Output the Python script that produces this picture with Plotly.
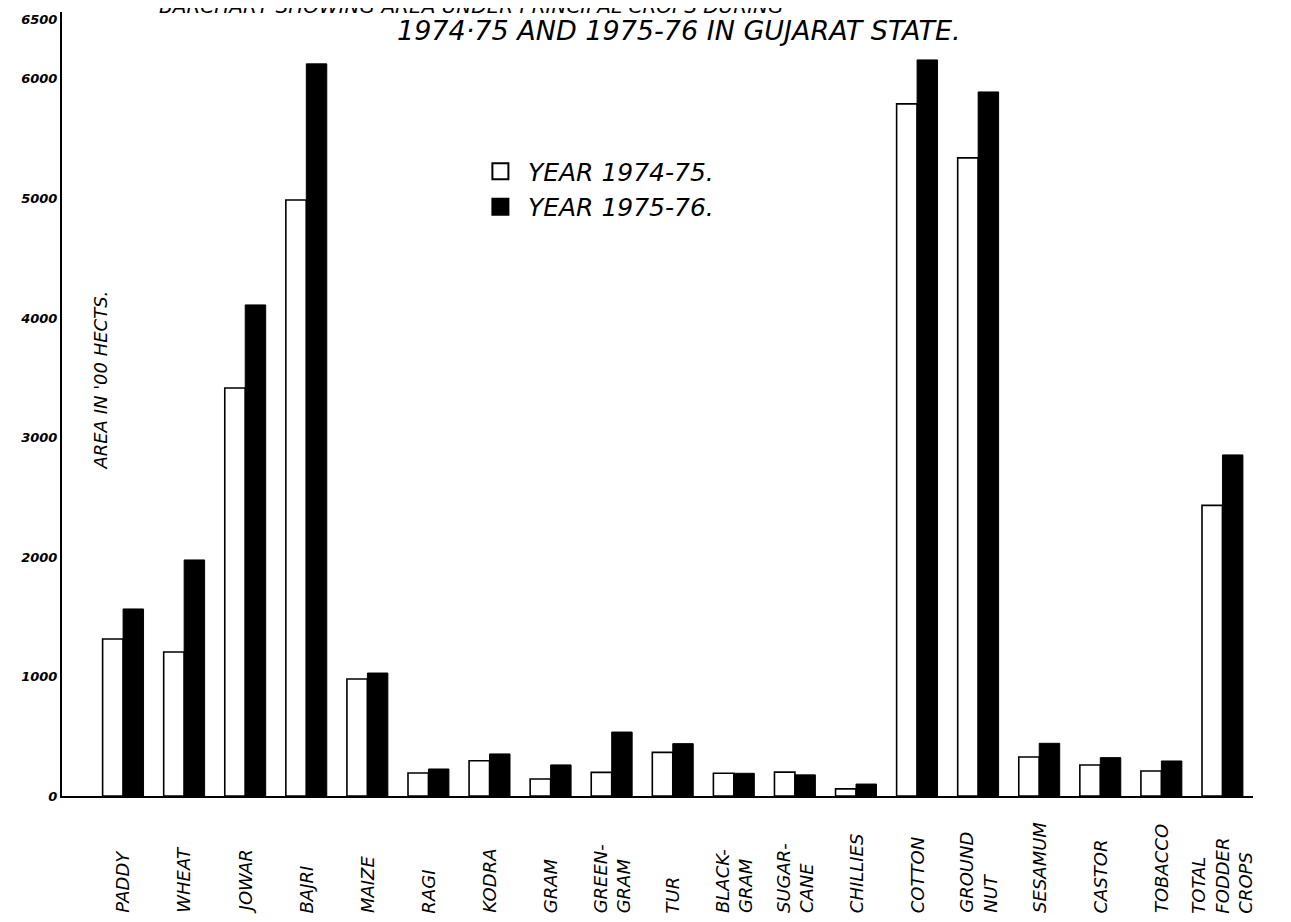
import plotly.graph_objects as go

crops = ["PADDY", "WHEAT", "JOWAR", "BAJRI", "MAIZE", "RAGI", "KODRA", "GRAM",
         "GREEN-GRAM", "TUR", "BLACK-GRAM", "SUGAR-CANE", "CHILLIES", "COTTON",
         "GROUND NUT", "SESAMUM", "CASTOR", "TOBACCO", "TOTAL FODDER CROPS"]
crop_labels = ["PADDY", "WHEAT", "JOWAR", "BAJRI", "MAIZE", "RAGI", "KODRA", "GRAM",
               "GREEN-<br>GRAM", "TUR", "BLACK-<br>GRAM", "SUGAR-<br>CANE", "CHILLIES",
               "COTTON", "GROUND<br>NUT", "SESAMUM", "CASTOR", "TOBACCO",
               "TOTAL<br>FODDER<br>CROPS"]
area_1974_75 = [1314, 1205, 3414, 4987, 979, 192, 295, 142, 198, 365, 190, 200, 60,
                5791, 5339, 326, 259, 209, 2432]
area_1975_76 = [1565, 1975, 4109, 6126, 1029, 226, 352, 260, 535, 438, 190, 177, 100,
                6159, 5891, 441, 321, 293, 2854]
y_ticks = [0, 1000, 2000, 3000, 4000, 5000, 6000, 6500]
y_tick_text = ["0", "1000", "2000", "3000", "4000", "5000", "6000", "6500"]
series_names = ["YEAR 1974-75.", "YEAR 1975-76."]

FONT = "DejaVu Sans"

fig = go.Figure()
fig.add_trace(go.Bar(
    x=crops, y=area_1974_75, name=series_names[0], showlegend=False,
    marker=dict(color="white", line=dict(color="black", width=1.6)),
))
fig.add_trace(go.Bar(
    x=crops, y=area_1975_76, name=series_names[1], showlegend=False,
    marker=dict(color="black", line=dict(color="black", width=1)),
))
# legend entries with larger square symbols
fig.add_trace(go.Scatter(
    x=[None], y=[None], mode="markers", name=series_names[0],
    marker=dict(symbol="square", size=18, color="white",
                line=dict(color="black", width=2)),
))
fig.add_trace(go.Scatter(
    x=[None], y=[None], mode="markers", name=series_names[1],
    marker=dict(symbol="square", size=18, color="black",
                line=dict(color="black", width=2)),
))

annotations = []
for c, lab in zip(crops, crop_labels):
    annotations.append(dict(
        x=c, xref="x", y=-0.152, yref="paper", text=lab, showarrow=False,
        textangle=-90, xanchor="center", yanchor="bottom", align="left",
        font=dict(family=FONT, size=18, color="black", style="italic"),
    ))

annotations.append(dict(
    x=0.08, xref="paper", y=1.008, yref="paper", xanchor="left", yanchor="middle",
    text="BARCHART SHOWING AREA UNDER PRINCIPAL CROPS DURING", showarrow=False,
    font=dict(family=FONT, size=20, color="black", style="italic"),
))
annotations.append(dict(
    x=0.518, xref="paper", y=0.977, yref="paper", xanchor="center", yanchor="middle",
    text="1974·75 AND 1975-76 IN GUJARAT STATE.", showarrow=False,
    font=dict(family=FONT, size=27, color="black", style="italic"),
))
annotations.append(dict(
    x=0.032, xref="paper", y=0.53, yref="paper", xanchor="center", yanchor="middle",
    text="AREA IN '00 HECTS.", showarrow=False, textangle=-90,
    font=dict(family=FONT, size=18, color="black", style="italic"),
))

fig.update_layout(
    width=1283, height=914,
    margin=dict(l=54, r=38, t=4, b=126),
    paper_bgcolor="white", plot_bgcolor="white",
    barmode="group", bargap=0.33, bargroupgap=0,
    showlegend=True,
    legend=dict(x=0.345, y=0.826, xanchor="left", yanchor="top",
                bgcolor="rgba(0,0,0,0)", tracegroupgap=0, itemwidth=45,
                font=dict(family=FONT, size=25, color="black", style="italic")),
    annotations=annotations,
    xaxis=dict(type="category", range=[-1, 18.5], showticklabels=False,
               showline=True, linecolor="black", linewidth=2,
               showgrid=False, ticks="", zeroline=False),
    yaxis=dict(range=[0, 6560], tickvals=y_ticks, ticktext=y_tick_text,
               showline=True, linecolor="black", linewidth=2,
               showgrid=False, ticks="", zeroline=False,
               tickfont=dict(family=FONT, size=13, color="black",
                             style="italic", weight="bold")),
)

fig.write_html("out.html")
